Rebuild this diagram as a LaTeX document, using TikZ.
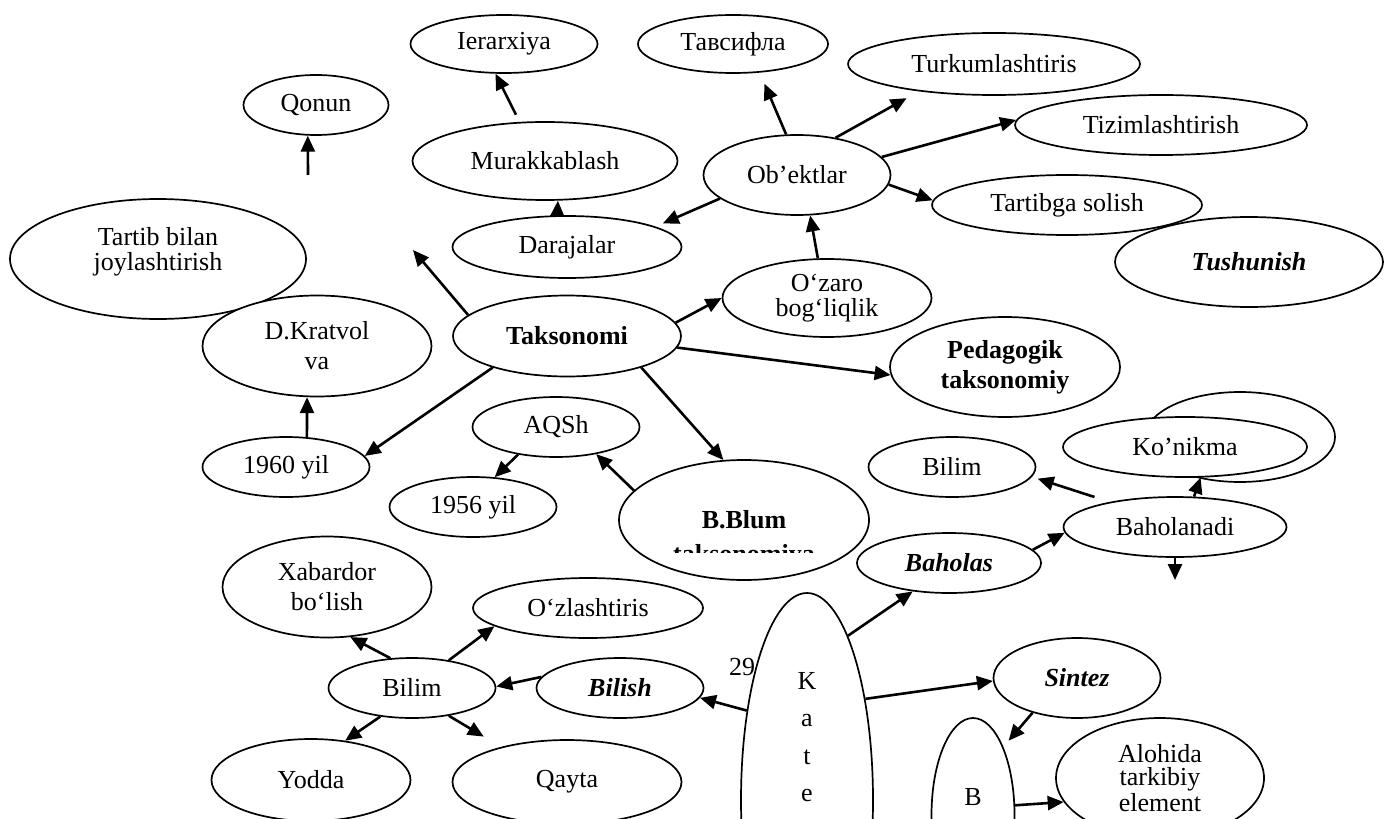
\documentclass[tikz,border=0pt]{standalone}
\usepackage{fontspec}
\setmainfont{Liberation Serif}
\usetikzlibrary{shapes.geometric,arrows.meta}

\tikzset{
  txt/.style={font=\fontsize{13}{15}\selectfont},
  bf/.style={font=\fontsize{13}{15}\selectfont\bfseries},
  bfit/.style={font=\fontsize{13}{15}\selectfont\bfseries\itshape},
  oval/.style 2 args={ellipse, draw, fill=white, line width=0.85pt, inner sep=0pt,
    align=center, minimum width=#1*0.5pt, minimum height=#2*0.5pt},
  arr/.style={line width=1.3pt, -{Triangle[length=8pt,width=7pt]}},
}

\begin{document}
\begin{tikzpicture}[x=0.5pt, y=-0.5pt, every node/.style={txt}]
    \clip (0,0) rectangle (1384,818);

    % Upper part
    \node[oval={145}{60}] (qonun) at (316,105) {Qonun};
    \node[oval={187}{58}] (ierar) at (504,44) {Ierarxiya};
    \node[oval={190}{58}] (tavsif) at (733,44) {Тавсифла};
    \node[oval={292}{62}] (turkum) at (994,64) {Turkumlashtiris};
    \node[oval={292}{60}] (tizim) at (1161,125) {Tizimlashtirish};
    \node[oval={265}{78}] (murak) at (545,161) {Murakkablash};
    \node[oval={187}{80}] (obekt) at (797,175) {Ob’ektlar};
    \node[oval={268}{90}, bfit] (tushun) at (1249,262) {Tushunish};
    \node[oval={270}{60}] (tartib) at (1067,205) {Tartibga solish};
    \node[oval={229}{62}] (daraj) at (567,247) {Darajalar};
    \node[oval={296}{120}, font=\fontsize{13}{12.5}\selectfont, text depth=10pt] (joylash) at (158,259) {Tartib bilan\\joylashtirish};
    \node[oval={209}{78}, font=\fontsize{13}{12.5}\selectfont] (ozaro) at (827,298) {O‘zaro\\bog‘liqlik};

    % Middle part
    \node[oval={228}{81}, bf] (takson) at (567,336) {Taksonomi};
    \node[oval={229}{101}] (kratvol) at (317,346) {D.Kratvol\\va};
    \node[oval={230}{100}, bf] (pedag) at (1005,367) {Pedagogik\\taksonomiy};
    \node[oval={167}{60}] (aqsh) at (556,427) {AQSh};
    \node[oval={167}{60}] (yil60) at (286,467) {1960 yil};
    \node[oval={167}{60}] (yil56) at (473,507) {1956 yil};
    \node[oval={250}{120}, bf] (blum) at (744,520) {B.Blum};
    \begin{scope}
        \clip (650,535) rectangle (840,552);
        \node[bf, anchor=base] (blumqator) at (744,562) {taksonomiya};
    \end{scope}
    \node[oval={167}{60}] (bilimR) at (952,467) {Bilim};
    \node[oval={190}{90}] (orqa) at (1240,437) {};
    \node[oval={244}{60}] (konik) at (1185,447) {Ko’nikma};
    \node[oval={223}{60}] (bahol) at (1175,527) {Baholanadi};
    \node[oval={184}{60}, bfit] (baholas) at (949,563) {Baholas};

    % Lower part
    \node[oval={209}{101}] (xabar) at (327,587) {Xabardor\\bo‘lish};
    \node[oval={230}{60}] (ozlash) at (588,608) {O‘zlashtiris};
    \node[oval={167}{60}] (bilimL) at (412,688) {Bilim};
    \node[oval={167}{60}, bfit] (bilish) at (620,688) {Bilish};
    \node[oval={167}{80}, bfit] (sintez) at (1077,678) {Sintez};
    \node[oval={132}{414}] (kate) at (807,800) {};
    \node[font=\fontsize{13}{18.75}\selectfont, align=center] (katetxt) at (807,737) {K\\a\\t\\e};
    \node (sahifa) at (742,667) {29};
    \node[oval={83}{194}] (bi) at (973,815) {};
    \node (bitxt) at (973,797) {B};
    \node[oval={208}{120}, font=\fontsize{13}{11.5}\selectfont] (alohida) at (1160,778) {Alohida\\tarkibiy\\element};
    \node[oval={199}{82}] (yodda) at (311,780) {Yodda};
    \node[oval={229}{84}] (qayta) at (567,782) {Qayta};

    % Free ends
    \coordinate (q0) at (308,175);
    \coordinate (t0) at (413,250);
    \coordinate (b0) at (1175,580);

    % Arrows
    \draw[arr] (q0) -- (qonun.255);
    \draw[arr, shorten <=4pt] (murak.123) -- (ierar.254);
    \draw[arr] (daraj.107) -- (murak.288);
    \draw[arr, shorten >=4pt] (obekt.197) -- (daraj.13);
    \draw[arr, shorten >=6pt] (obekt.105) -- (tavsif.313);
    \draw[arr, shorten >=7pt] (obekt.44) -- (turkum.200);
    \draw[arr] (obekt.12) -- (tizim.178);
    \draw[arr] (obekt.354) -- (tartib.178);
    \draw[arr] (ozaro.103) -- (obekt.288);
    \draw[arr] (takson.168) -- (t0);
    \draw[arr] (takson.7) -- (ozaro.180);
    \draw[arr] (takson.354) -- (pedag.184);
    \draw[arr] (takson.203) -- (yil60.8);
    \draw[arr] (takson.337) -- (blum.109);
    \draw[arr] (yil60.55) -- (kratvol.259);
    \draw[arr] (aqsh.216) -- (yil56.54);
    \draw[arr] (blum.165) -- (aqsh.326);
    \draw[arr, shorten <=8pt, shorten >=3pt] (bahol.159) -- (bilimR.353);
    \draw[arr] (bahol.58) -- (konik.297);
    \draw[arr] (bahol.south) -- (b0);
    \draw[arr] (baholas.9) -- (bahol.183);
    \draw[arr] (kate.76) -- (baholas.218);
    \draw[arr] (kate.60) -- (sintez.182);
    \draw[arr] (kate.124) -- (bilish.353);
    \draw[arr] (bilish.172) -- (bilimL.1);
    \draw[arr] (bilimL.37) -- (ozlash.191);
    \draw[arr] (bilimL.126) -- (xabar.295);
    \draw[arr] (bilimL.222) -- (yodda.49);
    \draw[arr, shorten >=10pt] (bilimL.323) -- (qayta.152);
    \draw[arr, shorten >=4pt] (sintez.218) -- (bi.66);
    \draw[arr] (bi.13) -- (alohida.194);
\end{tikzpicture}
\end{document}
